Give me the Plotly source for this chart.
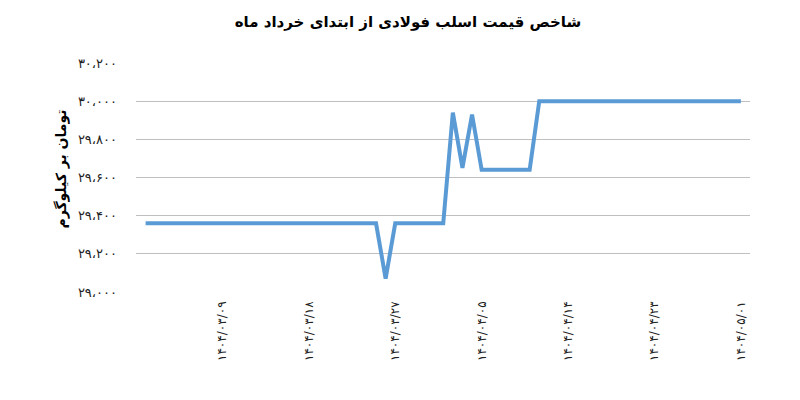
import plotly.graph_objects as go

# قیمت روزانه اسلب (تومان بر کیلوگرم) از ۱۴۰۴/۰۳/۰۱ تا ۱۴۰۴/۰۵/۰۱
slab_price = [
    29360, 29360, 29360, 29360, 29360, 29360, 29360, 29360, 29360, 29360,
    29360, 29360, 29360, 29360, 29360, 29360, 29360, 29360, 29360, 29360,
    29360, 29360, 29360, 29360, 29360, 29070, 29360, 29360, 29360, 29360,
    29360, 29360, 29940, 29650, 29930, 29640, 29640, 29640, 29640, 29640,
    29640, 30000, 30000, 30000, 30000, 30000, 30000, 30000, 30000, 30000,
    30000, 30000, 30000, 30000, 30000, 30000, 30000, 30000, 30000, 30000,
    30000, 30000, 30000,
]

# ماه های خرداد و تیر هر کدام ۳۱ روز
months = [(3, 31), (4, 31)]
last_day = (5, 1)

x_ticks = ["۱۴۰۴/۰۳/۰۹", "۱۴۰۴/۰۳/۱۸", "۱۴۰۴/۰۳/۲۷", "۱۴۰۴/۰۴/۰۵",
           "۱۴۰۴/۰۴/۱۴", "۱۴۰۴/۰۴/۲۳", "۱۴۰۴/۰۵/۰۱"]
y_vals = [29000, 29200, 29400, 29600, 29800, 30000, 30200]
y_text = ["۲۹،۰۰۰", "۲۹،۲۰۰", "۲۹،۴۰۰", "۲۹،۶۰۰", "۲۹،۸۰۰", "۳۰،۰۰۰", "۳۰،۲۰۰"]

FA = str.maketrans("0123456789", "۰۱۲۳۴۵۶۷۸۹")


def fa_date(m, d):
    return ("1404/%02d/%02d" % (m, d)).translate(FA)


dates = []
for m, n in months:
    for d in range(1, n + 1):
        dates.append(fa_date(m, d))
dates.append(fa_date(*last_day))

font_fa = "DejaVu Sans"

fig = go.Figure()
fig.add_trace(go.Scatter(x=dates, y=slab_price, mode="lines",
                         line=dict(color="#5b9bd5", width=4),
                         hoverinfo="x+y"))

# the page body keeps its 8px margin, so the margins below are shifted by 8px
fig.update_layout(
    width=800, height=400,
    margin=dict(l=128, r=58, t=55, b=116),
    paper_bgcolor="white", plot_bgcolor="white",
    showlegend=False,
    font=dict(family=font_fa, color="#000000"),
    title=dict(text="<b>شاخص قیمت اسلب فولادی از ابتدای خرداد ماه</b>",
               x=0.5, xanchor="center", y=0.965, yanchor="middle",
               font=dict(size=15, family=font_fa, color="#000000")),
    xaxis=dict(type="category", range=[-1, 62.95],
               tickmode="array", tickvals=x_ticks, ticktext=x_ticks,
               tickangle=-90, tickfont=dict(size=12, color="#222222"),
               showgrid=False, zeroline=False, showline=False,
               ticks="", ticklabelstandoff=6),
    yaxis=dict(range=[29000, 30200], tickmode="array",
               tickvals=y_vals, ticktext=y_text,
               tickfont=dict(size=13, color="#222222"),
               showgrid=True, gridcolor="#bfbfbf", gridwidth=1,
               zeroline=False, showline=False, ticks="",
               ticklabelstandoff=18),
    annotations=[dict(text="<b>تومان بر کیلوگرم</b>", textangle=-90,
                      xref="paper", yref="paper", x=-0.122, y=0.535,
                      xanchor="center", yanchor="middle", showarrow=False,
                      font=dict(size=14, family=font_fa, color="#000000"))],
)

fig.write_html("out.html")
